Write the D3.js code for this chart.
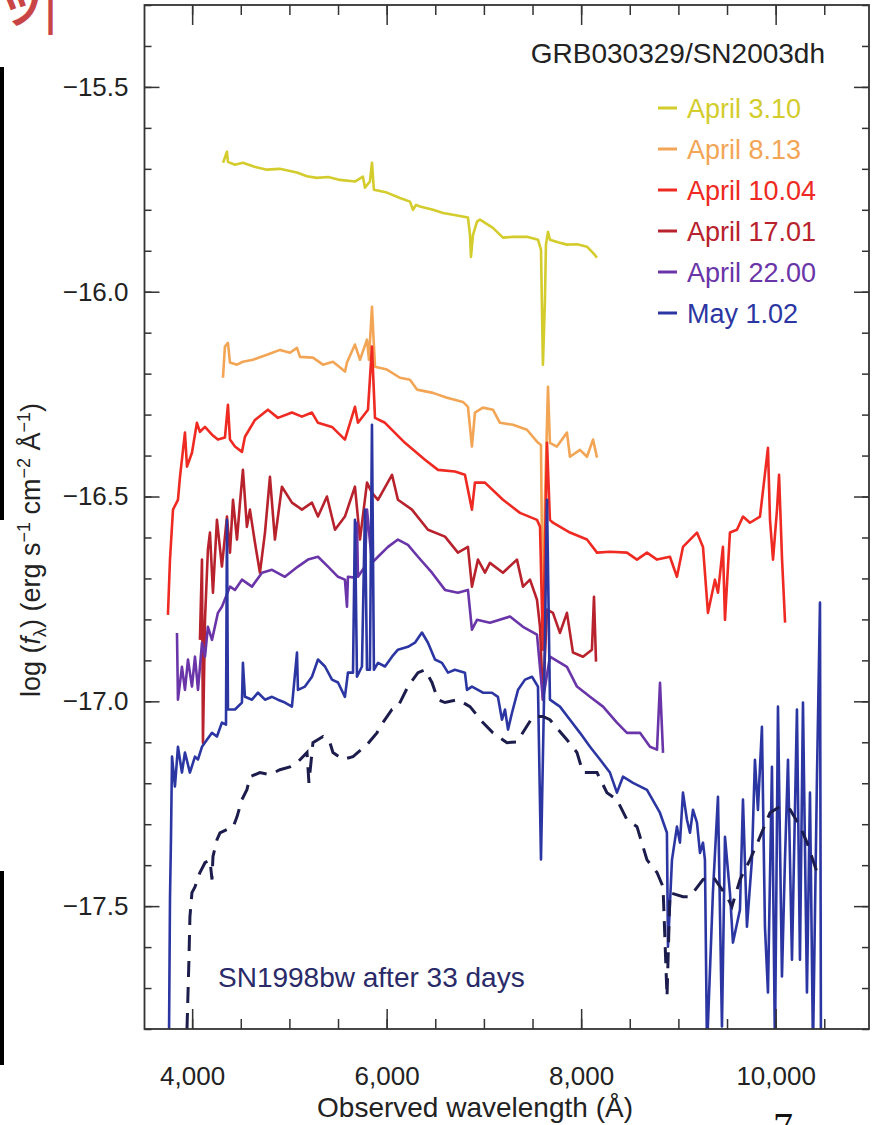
<!DOCTYPE html>
<html>

<head>
  <meta charset="utf-8" />
  <script src="https://d3js.org/d3.v7.min.js"></script>
  <style>
    body {
      margin: 0;
      background: white;
      font-family: "Liberation Sans", Arial, sans-serif;
    }

    .axis line {
      stroke: #333;
      stroke-width: 1.5px;
    }

    .axis text {
      font-family: "Liberation Sans", Arial, sans-serif;
      font-size: 26px;
      fill: #222;
    }
  </style>
</head>

<body>
  <svg id="chart" width="877" height="1125"></svg>

  <script>
    // spectra, [wavelength (A), log f_lambda]
    const apr03 = [[4318, -15.685], [4358, -15.658], [4368, -15.683], [4440, -15.690], [4522, -15.685], [4640, -15.695], [4769, -15.702], [4900, -15.700], [5077, -15.709], [5180, -15.718], [5283, -15.722], [5400, -15.720], [5520, -15.727], [5674, -15.731], [5756, -15.719], [5777, -15.746], [5828, -15.731], [5849, -15.685], [5869, -15.751], [6003, -15.758], [6137, -15.771], [6240, -15.780], [6271, -15.800], [6302, -15.788], [6343, -15.792], [6476, -15.800], [6580, -15.808], [6682, -15.812], [6836, -15.819], [6857, -15.861], [6867, -15.915], [6888, -15.861], [6929, -15.829], [6960, -15.824], [7093, -15.844], [7196, -15.868], [7299, -15.866], [7443, -15.866], [7556, -15.873], [7587, -15.897], [7607, -16.178], [7628, -16.020], [7638, -15.885], [7659, -15.854], [7679, -15.873], [7770, -15.880], [7854, -15.885], [7960, -15.884], [8060, -15.890], [8122, -15.905], [8163, -15.917]];

    const apr08 = [[4317, -16.210], [4337, -16.134], [4368, -16.125], [4389, -16.173], [4461, -16.178], [4522, -16.171], [4625, -16.166], [4769, -16.154], [4903, -16.142], [5006, -16.149], [5078, -16.137], [5109, -16.159], [5242, -16.161], [5345, -16.178], [5448, -16.171], [5572, -16.195], [5592, -16.173], [5674, -16.129], [5726, -16.166], [5798, -16.117], [5818, -16.166], [5849, -16.037], [5880, -16.183], [6003, -16.190], [6137, -16.210], [6240, -16.215], [6312, -16.239], [6476, -16.247], [6620, -16.259], [6785, -16.269], [6836, -16.281], [6877, -16.378], [6908, -16.295], [6990, -16.283], [7093, -16.288], [7165, -16.320], [7299, -16.325], [7443, -16.337], [7546, -16.366], [7587, -16.374], [7607, -16.850], [7628, -16.508], [7659, -16.232], [7679, -16.369], [7751, -16.378], [7854, -16.344], [7885, -16.403], [7988, -16.386], [8060, -16.403], [8122, -16.361], [8163, -16.405]];

    const apr10 = [[3751, -16.789], [3772, -16.654], [3803, -16.532], [3854, -16.508], [3875, -16.452], [3926, -16.344], [3947, -16.427], [3998, -16.393], [4049, -16.320], [4080, -16.342], [4132, -16.330], [4204, -16.349], [4265, -16.361], [4337, -16.356], [4368, -16.276], [4389, -16.361], [4440, -16.378], [4512, -16.391], [4543, -16.354], [4646, -16.313], [4779, -16.288], [4882, -16.308], [5026, -16.295], [5129, -16.305], [5232, -16.295], [5294, -16.320], [5438, -16.330], [5571, -16.361], [5674, -16.281], [5705, -16.320], [5808, -16.288], [5849, -16.134], [5880, -16.308], [5983, -16.320], [6188, -16.369], [6394, -16.410], [6528, -16.435], [6702, -16.439], [6805, -16.447], [6877, -16.532], [6908, -16.466], [7011, -16.466], [7196, -16.508], [7371, -16.540], [7546, -16.557], [7577, -16.574], [7607, -16.874], [7649, -16.369], [7679, -16.557], [7710, -16.564], [7885, -16.588], [8060, -16.605], [8163, -16.637], [8296, -16.635], [8471, -16.637], [8574, -16.654], [8677, -16.637], [8780, -16.654], [8913, -16.647], [8985, -16.696], [9047, -16.623], [9191, -16.588], [9253, -16.623], [9304, -16.784], [9376, -16.703], [9407, -16.735], [9458, -16.623], [9479, -16.801], [9530, -16.588], [9602, -16.581], [9664, -16.549], [9736, -16.564], [9839, -16.549], [9921, -16.381], [9942, -16.557], [9973, -16.654], [10014, -16.532], [10035, -16.447], [10066, -16.654], [10097, -16.808]];

    const apr17 = [[4080, -16.850], [4101, -16.654], [4111, -17.101], [4132, -16.801], [4162, -16.630], [4183, -16.588], [4214, -16.735], [4255, -16.557], [4306, -16.671], [4358, -16.549], [4389, -16.637], [4420, -16.508], [4461, -16.605], [4492, -16.515], [4522, -16.435], [4563, -16.574], [4594, -16.532], [4646, -16.613], [4697, -16.686], [4749, -16.588], [4800, -16.452], [4851, -16.605], [4923, -16.476], [5026, -16.515], [5129, -16.532], [5232, -16.515], [5294, -16.549], [5386, -16.500], [5469, -16.581], [5571, -16.549], [5674, -16.476], [5726, -16.605], [5798, -16.466], [5849, -16.491], [5911, -16.508], [6055, -16.447], [6116, -16.508], [6260, -16.532], [6425, -16.581], [6600, -16.598], [6733, -16.637], [6836, -16.623], [6877, -16.720], [6939, -16.654], [7011, -16.686], [7062, -16.662], [7196, -16.686], [7340, -16.654], [7402, -16.720], [7474, -16.703], [7546, -16.752], [7577, -16.818], [7607, -16.996], [7649, -16.776], [7710, -16.784], [7782, -16.833], [7854, -16.784], [7916, -16.881], [8019, -16.891], [8111, -16.874], [8132, -16.745], [8153, -16.903]];

    const apr22 = [[3844, -16.833], [3854, -16.996], [3895, -16.916], [3926, -16.972], [3957, -16.898], [3998, -16.964], [4029, -16.891], [4060, -16.972], [4101, -16.857], [4132, -16.891], [4162, -16.818], [4204, -16.850], [4265, -16.784], [4306, -16.769], [4389, -16.720], [4440, -16.728], [4512, -16.703], [4615, -16.720], [4718, -16.686], [4821, -16.679], [4954, -16.696], [5088, -16.671], [5191, -16.654], [5294, -16.647], [5397, -16.671], [5500, -16.696], [5571, -16.703], [5592, -16.769], [5602, -16.696], [5674, -16.698], [5695, -16.564], [5705, -16.696], [5777, -16.671], [5798, -16.532], [5849, -16.662], [5911, -16.647], [6014, -16.623], [6116, -16.605], [6219, -16.618], [6322, -16.647], [6466, -16.686], [6600, -16.728], [6733, -16.735], [6836, -16.728], [6877, -16.825], [6929, -16.801], [7062, -16.808], [7268, -16.793], [7402, -16.818], [7546, -16.837], [7607, -16.996], [7679, -16.891], [7854, -16.916], [7957, -16.964], [8091, -16.989], [8225, -17.013], [8368, -17.052], [8471, -17.077], [8605, -17.077], [8708, -17.111], [8780, -17.118], [8811, -16.955], [8842, -17.126]];

    const may01 = [[3761, -17.85], [3772, -17.484], [3782, -17.338], [3793, -17.135], [3823, -17.208], [3854, -17.111], [3895, -17.174], [3926, -17.125], [3977, -17.174], [4029, -17.135], [4060, -17.142], [4101, -17.111], [4152, -17.094], [4204, -17.077], [4255, -17.086], [4306, -17.052], [4348, -17.057], [4358, -16.557], [4368, -17.020], [4440, -17.020], [4512, -17.003], [4522, -16.906], [4543, -16.989], [4615, -16.996], [4677, -16.979], [4749, -16.996], [4821, -16.989], [4882, -16.996], [4954, -17.003], [5026, -17.013], [5078, -16.881], [5088, -16.972], [5160, -16.964], [5232, -16.940], [5294, -16.898], [5366, -16.915], [5438, -16.947], [5500, -16.954], [5571, -16.989], [5602, -16.930], [5654, -16.930], [5674, -16.557], [5695, -16.940], [5746, -16.915], [5777, -16.532], [5798, -16.923], [5828, -16.923], [5849, -16.325], [5869, -16.923], [5911, -16.906], [5983, -16.915], [6055, -16.891], [6116, -16.874], [6219, -16.867], [6291, -16.857], [6363, -16.832], [6425, -16.857], [6497, -16.898], [6569, -16.906], [6631, -16.930], [6702, -16.923], [6805, -16.930], [6826, -16.972], [6877, -16.964], [6939, -16.972], [6990, -16.979], [7083, -16.979], [7144, -16.989], [7186, -17.045], [7217, -17.020], [7248, -17.069], [7289, -17.028], [7351, -16.972], [7423, -16.947], [7495, -16.940], [7556, -16.964], [7587, -17.386], [7618, -16.996], [7649, -16.508], [7679, -16.996], [7782, -17.013], [7885, -17.045], [7988, -17.077], [8091, -17.111], [8194, -17.142], [8296, -17.174], [8368, -17.223], [8430, -17.184], [8533, -17.199], [8677, -17.216], [8810, -17.272], [8882, -17.321], [8893, -17.599], [8934, -17.387], [8985, -17.306], [9016, -17.345], [9047, -17.223], [9088, -17.289], [9119, -17.321], [9150, -17.265], [9191, -17.296], [9222, -17.370], [9253, -17.345], [9273, -17.387], [9294, -17.85], [9355, -17.467], [9407, -17.233], [9448, -17.794], [9479, -17.331], [9530, -17.467], [9561, -17.589], [9633, -17.509], [9664, -17.240], [9705, -17.550], [9756, -17.387], [9787, -17.143], [9818, -17.265], [9859, -17.062], [9890, -17.550], [9921, -17.711], [9962, -17.160], [9993, -17.85], [10024, -17.013], [10065, -17.672], [10096, -17.387], [10127, -17.143], [10168, -17.631], [10219, -17.020], [10250, -17.631], [10281, -17.003], [10322, -17.711], [10353, -17.223], [10384, -17.85], [10425, -17.184], [10456, -16.759], [10466, -17.85]];

    // SN1998bw template, dashed
    const sn1998bw = [[3947, -17.80], [3967, -17.631], [3977, -17.526], [3998, -17.467], [4029, -17.453], [4080, -17.418], [4132, -17.394], [4183, -17.387], [4204, -17.435], [4214, -17.379], [4255, -17.338], [4286, -17.321], [4358, -17.313], [4420, -17.308], [4461, -17.282], [4512, -17.240], [4563, -17.216], [4594, -17.184], [4697, -17.174], [4800, -17.179], [4903, -17.167], [5006, -17.160], [5078, -17.150], [5181, -17.125], [5201, -17.199], [5242, -17.101], [5345, -17.086], [5417, -17.101], [5448, -17.125], [5551, -17.142], [5654, -17.135], [5798, -17.106], [5900, -17.077], [5962, -17.052], [6055, -17.020], [6116, -17.013], [6219, -16.964], [6322, -16.930], [6394, -16.923], [6466, -16.954], [6528, -16.996], [6600, -17.003], [6733, -16.996], [6857, -17.013], [6990, -17.052], [7093, -17.077], [7237, -17.101], [7340, -17.099], [7505, -17.037], [7607, -17.037], [7679, -17.045], [7854, -17.094], [7957, -17.125], [8019, -17.174], [8163, -17.174], [8265, -17.223], [8368, -17.240], [8471, -17.289], [8574, -17.306], [8677, -17.387], [8780, -17.418], [8842, -17.453], [8883, -17.721], [8913, -17.467], [9047, -17.477], [9119, -17.477], [9253, -17.435], [9356, -17.428], [9500, -17.477], [9551, -17.501], [9634, -17.435], [9736, -17.387], [9839, -17.331], [9942, -17.272], [10045, -17.257], [10148, -17.264], [10251, -17.306], [10323, -17.345], [10426, -17.418]];

    const seriesNames = ["April 3.10", "April 8.13", "April 10.04", "April 17.01", "April 22.00", "May 1.02"];
    const xMajor = [4000, 6000, 8000, 10000];
    const xMinor = [4000, 4500, 5000, 5500, 6000, 6500, 7000, 7500, 8000, 8500, 9000, 9500, 10000, 10500];
    const yMajor = [-17.5, -17.0, -16.5, -16.0, -15.5];
    const yMinor = d3.range(-178, -152).map(d => d / 10);

    const colors = ["#d3cc2c", "#f3a556", "#ee2a22", "#b8222c", "#6a35a8", "#2c36a3"];
    const spectra = [apr03, apr08, apr10, apr17, apr22, may01];

    const svg = d3.select("#chart");
    const plot = { left: 144.5, right: 869, top: 5, bottom: 1029 };

    const x = d3.scaleLinear().domain([3510, 10960]).range([plot.left, plot.right]);
    const y = d3.scaleLinear().domain([-17.8, -15.3]).range([plot.bottom, plot.top]);

    svg.append("clipPath").attr("id", "clip")
      .append("rect")
      .attr("x", plot.left).attr("y", plot.top)
      .attr("width", plot.right - plot.left).attr("height", plot.bottom - plot.top);

    const line = d3.line().x(d => x(d[0])).y(d => y(d[1]));

    const lines = svg.append("g").attr("clip-path", "url(#clip)");

    spectra.forEach((s, i) => {
      lines.append("path").datum(s)
        .attr("fill", "none")
        .attr("stroke", colors[i])
        .attr("stroke-width", 2.6)
        .attr("stroke-linejoin", "round")
        .attr("d", line);
    });

    lines.append("path").datum(sn1998bw)
      .attr("fill", "none")
      .attr("stroke", "#1d1d4d")
      .attr("stroke-width", 3)
      .attr("stroke-dasharray", "16,10")
      .attr("d", line);

    // axes on all four sides, ticks pointing in
    const noDomain = g => g.select(".domain").remove();

    svg.append("g").attr("class", "axis")
      .attr("transform", "translate(0," + plot.bottom + ")")
      .call(d3.axisBottom(x).tickValues(xMinor).tickSize(-10).tickFormat(""))
      .call(noDomain);
    svg.append("g").attr("class", "axis")
      .attr("transform", "translate(0," + plot.bottom + ")")
      .call(d3.axisBottom(x).tickValues(xMajor).tickSize(-20).tickPadding(38).tickFormat(d3.format(",")))
      .call(noDomain);
    svg.append("g").attr("class", "axis")
      .attr("transform", "translate(0," + plot.top + ")")
      .call(d3.axisTop(x).tickValues(xMinor).tickSize(-10).tickFormat(""))
      .call(noDomain);
    svg.append("g").attr("class", "axis")
      .attr("transform", "translate(0," + plot.top + ")")
      .call(d3.axisTop(x).tickValues(xMajor).tickSize(-20).tickFormat(""))
      .call(noDomain);

    svg.append("g").attr("class", "axis")
      .attr("transform", "translate(" + plot.left + ",0)")
      .call(d3.axisLeft(y).tickValues(yMinor).tickSize(-7).tickFormat(""))
      .call(noDomain);
    svg.append("g").attr("class", "axis")
      .attr("transform", "translate(" + plot.left + ",0)")
      .call(d3.axisLeft(y).tickValues(yMajor).tickSize(-15).tickPadding(16).tickFormat(d3.format(".1f")))
      .call(noDomain);
    svg.append("g").attr("class", "axis")
      .attr("transform", "translate(" + plot.right + ",0)")
      .call(d3.axisRight(y).tickValues(yMinor).tickSize(-7).tickFormat(""))
      .call(noDomain);
    svg.append("g").attr("class", "axis")
      .attr("transform", "translate(" + plot.right + ",0)")
      .call(d3.axisRight(y).tickValues(yMajor).tickSize(-15).tickFormat(""))
      .call(noDomain);

    svg.append("rect")
      .attr("x", plot.left).attr("y", plot.top)
      .attr("width", plot.right - plot.left).attr("height", plot.bottom - plot.top)
      .attr("fill", "none").attr("stroke", "#333").attr("stroke-width", 1.8);

    // title + legend
    svg.append("text")
      .attr("x", 825).attr("y", 63)
      .attr("text-anchor", "end")
      .style("font-size", "28px").style("fill", "#222")
      .text("GRB030329/SN2003dh");

    const legend = svg.append("g");
    seriesNames.forEach((name, i) => {
      const ly = 108 + i * 41;
      legend.append("line")
        .attr("x1", 658).attr("x2", 677).attr("y1", ly).attr("y2", ly)
        .attr("stroke", colors[i]).attr("stroke-width", 3);
      legend.append("text")
        .attr("x", 687).attr("y", ly + 10)
        .style("font-size", "27px").style("fill", colors[i])
        .text(name);
    });

    svg.append("text")
      .attr("x", 218).attr("y", 987)
      .style("font-size", "28px").style("fill", "#2a2a68")
      .text("SN1998bw after 33 days");

    // axis titles
    svg.append("text")
      .attr("x", 475).attr("y", 1117)
      .attr("text-anchor", "middle")
      .style("font-size", "28px").style("fill", "#222")
      .text("Observed wavelength (Å)");

    const ylab = svg.append("text")
      .attr("transform", "translate(40,550)rotate(-90)")
      .attr("text-anchor", "middle")
      .style("font-size", "27px").style("fill", "#222");
    ylab.append("tspan").text("log (");
    ylab.append("tspan").style("font-style", "italic").text("f");
    ylab.append("tspan").attr("dy", 6).style("font-size", "18px").text("λ");
    ylab.append("tspan").attr("dy", -6).text(") (erg s");
    ylab.append("tspan").attr("dy", -10).style("font-size", "18px").text("−1");
    ylab.append("tspan").attr("dy", 10).text(" cm");
    ylab.append("tspan").attr("dy", -10).style("font-size", "18px").text("−2");
    ylab.append("tspan").attr("dy", 10).text(" Å");
    ylab.append("tspan").attr("dy", -10).style("font-size", "18px").text("−1");
    ylab.append("tspan").attr("dy", 10).text(")");

    // bits of the surrounding page caught in the crop
    svg.append("rect").attr("x", 0).attr("y", 67).attr("width", 4).attr("height", 453).attr("fill", "#000");
    svg.append("rect").attr("x", 0).attr("y", 871).attr("width", 4).attr("height", 194).attr("fill", "#000");
    svg.append("text").attr("x", 0).attr("y", 22)
      .style("font-size", "44px").style("font-weight", "bold").style("fill", "#c94545")
      .style("font-family", "'Noto Sans CJK JP', sans-serif")
      .text("ッ|");
    svg.append("text").attr("x", 773).attr("y", 1140)
      .style("font-size", "40px").style("font-family", "'Liberation Serif', serif").style("fill", "#111")
      .text("7");
  </script>
</body>

</html>
